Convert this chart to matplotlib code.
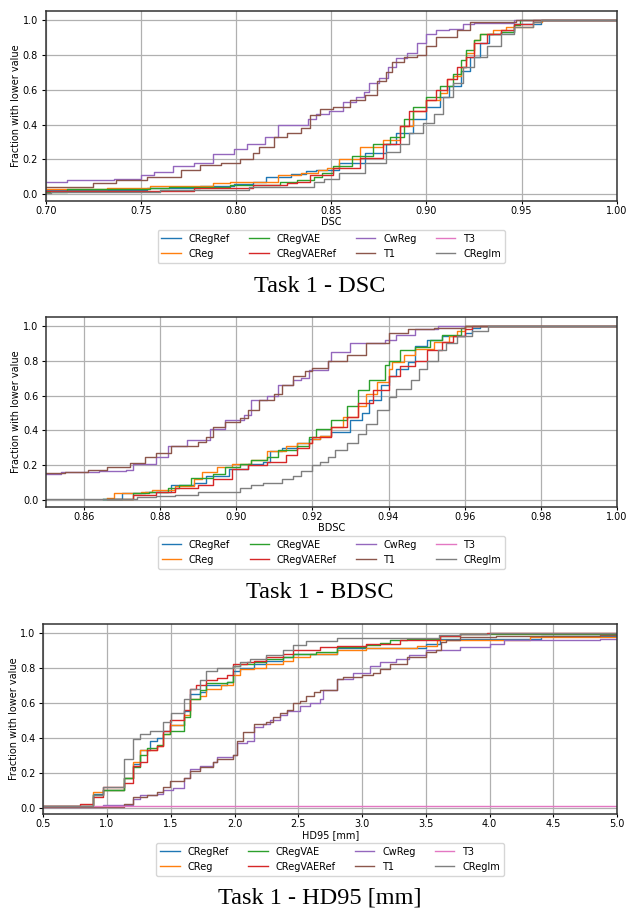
import numpy as np
import matplotlib
matplotlib.use("Agg")
import matplotlib.pyplot as plt

series_names = ["CRegRef", "CReg", "CRegVAE", "CRegVAERef", "CwReg", "T1", "T3", "CRegIm"]
series_colors = ["tab:blue", "tab:orange", "tab:green", "tab:red",
                 "tab:purple", "tab:brown", "tab:pink", "tab:gray"]

# ---- Task 1 - DSC : (value, fraction) step points ----
dsc_cregref = [(0.70, 0.025), (0.753, 0.038), (0.781, 0.048), (0.799, 0.057), (0.809, 0.073), (0.816, 0.10),
               (0.829, 0.117), (0.837, 0.136), (0.842, 0.14), (0.854, 0.18), (0.868, 0.235), (0.879, 0.29),
               (0.884, 0.35), (0.893, 0.43), (0.90, 0.50), (0.907, 0.56), (0.912, 0.62), (0.918, 0.71),
               (0.923, 0.79), (0.928, 0.87), (0.933, 0.92), (0.939, 0.93), (0.946, 0.98), (0.96, 1.0)]
dsc_creg = [(0.70, 0.028), (0.732, 0.034), (0.755, 0.05), (0.788, 0.063), (0.797, 0.07), (0.822, 0.11),
            (0.834, 0.12), (0.843, 0.14), (0.848, 0.15), (0.854, 0.20), (0.865, 0.27), (0.877, 0.31),
            (0.886, 0.39), (0.893, 0.48), (0.90, 0.54), (0.907, 0.58), (0.911, 0.66), (0.914, 0.68),
            (0.918, 0.73), (0.921, 0.81), (0.925, 0.885), (0.928, 0.92), (0.935, 0.94), (0.942, 0.96),
            (0.956, 0.99), (0.961, 1.0)]
dsc_cregvae = [(0.70, 0.015), (0.711, 0.03), (0.755, 0.035), (0.765, 0.045), (0.797, 0.055), (0.823, 0.07),
               (0.832, 0.08), (0.841, 0.10), (0.845, 0.12), (0.851, 0.16), (0.861, 0.22), (0.872, 0.29),
               (0.881, 0.33), (0.888, 0.43), (0.893, 0.50), (0.90, 0.56), (0.907, 0.62), (0.914, 0.69),
               (0.918, 0.77), (0.921, 0.83), (0.925, 0.885), (0.928, 0.92), (0.939, 0.93), (0.946, 0.97),
               (0.949, 1.0)]
dsc_cregvaeref = [(0.70, 0.02), (0.778, 0.034), (0.809, 0.055), (0.827, 0.063), (0.832, 0.073), (0.839, 0.11),
                  (0.851, 0.15), (0.865, 0.21), (0.877, 0.29), (0.886, 0.39), (0.891, 0.48), (0.90, 0.54),
                  (0.905, 0.60), (0.911, 0.66), (0.916, 0.73), (0.921, 0.79), (0.925, 0.87), (0.932, 0.92),
                  (0.939, 0.94), (0.946, 0.975), (0.956, 1.0)]
dsc_cwreg = [(0.70, 0.073), (0.711, 0.08), (0.736, 0.09), (0.75, 0.11), (0.757, 0.13), (0.767, 0.16),
             (0.778, 0.18), (0.788, 0.23), (0.799, 0.26), (0.806, 0.29), (0.815, 0.33), (0.822, 0.40),
             (0.838, 0.43), (0.842, 0.46), (0.849, 0.48), (0.856, 0.53), (0.863, 0.56), (0.867, 0.59),
             (0.87, 0.64), (0.875, 0.67), (0.88, 0.73), (0.884, 0.78), (0.89, 0.81), (0.895, 0.87),
             (0.90, 0.92), (0.905, 0.94), (0.912, 0.95), (0.919, 0.98), (0.925, 0.985), (0.946, 1.0)]
dsc_t1 = [(0.70, 0.044), (0.725, 0.067), (0.737, 0.082), (0.753, 0.10), (0.771, 0.14), (0.781, 0.17),
          (0.792, 0.18), (0.802, 0.20), (0.809, 0.235), (0.812, 0.27), (0.82, 0.33), (0.827, 0.35),
          (0.834, 0.38), (0.839, 0.455), (0.844, 0.49), (0.851, 0.50), (0.86, 0.54), (0.868, 0.57),
          (0.874, 0.65), (0.879, 0.70), (0.882, 0.76), (0.888, 0.79), (0.895, 0.80), (0.90, 0.85),
          (0.905, 0.90), (0.916, 0.94), (0.923, 0.99), (0.947, 1.0)]
dsc_t3 = []
dsc_cregim = [(0.70, 0.01), (0.703, 0.015), (0.76, 0.025), (0.807, 0.044), (0.841, 0.073), (0.846, 0.09),
              (0.854, 0.12), (0.868, 0.18), (0.879, 0.245), (0.886, 0.29), (0.891, 0.35), (0.898, 0.41),
              (0.904, 0.46), (0.909, 0.56), (0.914, 0.64), (0.919, 0.73), (0.925, 0.79), (0.932, 0.85),
              (0.939, 0.92), (0.946, 0.96), (0.956, 0.99), (0.96, 1.0)]

# ---- Task 1 - BDSC ----
bdsc_cregref = [(0.865, 0.01), (0.87, 0.04), (0.876, 0.05), (0.883, 0.09), (0.889, 0.10), (0.892, 0.14),
                (0.898, 0.18), (0.903, 0.21), (0.907, 0.22), (0.909, 0.28), (0.912, 0.30), (0.916, 0.33),
                (0.919, 0.35), (0.922, 0.37), (0.925, 0.39), (0.93, 0.46), (0.933, 0.50), (0.935, 0.575),
                (0.938, 0.66), (0.94, 0.71), (0.942, 0.75), (0.945, 0.79), (0.947, 0.885), (0.95, 0.92),
                (0.954, 0.94), (0.96, 0.96), (0.962, 0.99), (0.964, 1.0)]
bdsc_creg = [(0.866, 0.015), (0.868, 0.04), (0.875, 0.045), (0.878, 0.06), (0.884, 0.08), (0.889, 0.12),
             (0.891, 0.16), (0.895, 0.19), (0.899, 0.21), (0.904, 0.23), (0.908, 0.28), (0.913, 0.31),
             (0.916, 0.33), (0.92, 0.35), (0.922, 0.37), (0.925, 0.42), (0.928, 0.48), (0.932, 0.54),
             (0.934, 0.61), (0.937, 0.68), (0.94, 0.75), (0.941, 0.795), (0.944, 0.835), (0.947, 0.87),
             (0.952, 0.91), (0.956, 0.94), (0.958, 0.97), (0.96, 1.0)]
bdsc_cregvae = [(0.865, 0.01), (0.873, 0.04), (0.877, 0.05), (0.882, 0.07), (0.885, 0.09), (0.888, 0.13),
                (0.894, 0.15), (0.897, 0.19), (0.901, 0.21), (0.904, 0.23), (0.908, 0.25), (0.911, 0.29),
                (0.916, 0.31), (0.919, 0.36), (0.921, 0.41), (0.925, 0.46), (0.929, 0.54), (0.932, 0.63),
                (0.935, 0.69), (0.939, 0.775), (0.94, 0.80), (0.943, 0.86), (0.947, 0.88), (0.951, 0.92),
                (0.954, 0.95), (0.959, 0.99), (0.96, 1.0)]
bdsc_cregvaeref = [(0.866, 0.01), (0.873, 0.03), (0.879, 0.05), (0.884, 0.07), (0.89, 0.09), (0.894, 0.12),
                   (0.899, 0.18), (0.903, 0.20), (0.908, 0.22), (0.913, 0.26), (0.916, 0.30), (0.919, 0.33),
                   (0.92, 0.36), (0.925, 0.42), (0.929, 0.48), (0.932, 0.56), (0.936, 0.63), (0.94, 0.71),
                   (0.943, 0.77), (0.947, 0.80), (0.95, 0.86), (0.954, 0.91), (0.957, 0.94), (0.96, 0.98),
                   (0.962, 1.0)]
bdsc_cwreg = [(0.85, 0.15), (0.854, 0.163), (0.864, 0.17), (0.871, 0.175), (0.873, 0.21), (0.879, 0.25),
              (0.882, 0.31), (0.887, 0.345), (0.893, 0.41), (0.897, 0.46), (0.902, 0.49), (0.904, 0.575),
              (0.908, 0.60), (0.911, 0.66), (0.915, 0.69), (0.917, 0.70), (0.919, 0.745), (0.924, 0.80),
              (0.925, 0.85), (0.93, 0.90), (0.939, 0.92), (0.942, 0.95), (0.947, 0.98), (0.953, 1.0)]
bdsc_t1 = [(0.85, 0.157), (0.855, 0.163), (0.861, 0.172), (0.866, 0.19), (0.872, 0.215), (0.876, 0.25),
           (0.879, 0.27), (0.883, 0.31), (0.89, 0.335), (0.892, 0.36), (0.894, 0.42), (0.897, 0.45),
           (0.901, 0.47), (0.903, 0.52), (0.906, 0.575), (0.91, 0.61), (0.912, 0.66), (0.915, 0.71),
           (0.918, 0.74), (0.92, 0.76), (0.924, 0.80), (0.929, 0.835), (0.934, 0.90), (0.94, 0.96),
           (0.945, 0.98), (0.952, 0.99), (0.96, 1.0)]
bdsc_t3 = []
bdsc_cregim = [(0.85, 0.01), (0.874, 0.02), (0.879, 0.025), (0.884, 0.03), (0.89, 0.045), (0.899, 0.05),
               (0.901, 0.07), (0.904, 0.09), (0.907, 0.10), (0.912, 0.12), (0.915, 0.14), (0.917, 0.17),
               (0.92, 0.20), (0.922, 0.22), (0.924, 0.25), (0.926, 0.29), (0.929, 0.33), (0.932, 0.38),
               (0.934, 0.44), (0.937, 0.52), (0.94, 0.59), (0.942, 0.64), (0.946, 0.69), (0.948, 0.75),
               (0.95, 0.80), (0.953, 0.86), (0.955, 0.90), (0.958, 0.94), (0.962, 0.97), (0.966, 1.0)]

# ---- Task 1 - HD95 [mm] ----
hd_cregref = [(0.5, 0.01), (0.89, 0.08), (0.97, 0.10), (1.13, 0.17), (1.2, 0.25), (1.26, 0.33), (1.34, 0.38),
              (1.39, 0.40), (1.44, 0.44), (1.49, 0.47), (1.6, 0.55), (1.65, 0.65), (1.73, 0.66), (1.78, 0.70),
              (1.94, 0.72), (1.99, 0.78), (2.04, 0.80), (2.15, 0.82), (2.25, 0.84), (2.38, 0.86), (2.46, 0.88),
              (2.8, 0.91), (3.5, 0.935), (3.61, 0.965), (4.4, 0.98)]
hd_creg = [(0.5, 0.01), (0.89, 0.09), (0.97, 0.10), (1.13, 0.17), (1.2, 0.26), (1.26, 0.33), (1.39, 0.35),
           (1.44, 0.42), (1.49, 0.47), (1.6, 0.53), (1.65, 0.62), (1.73, 0.64), (1.78, 0.68), (1.89, 0.70),
           (1.99, 0.76), (2.04, 0.79), (2.15, 0.80), (2.25, 0.82), (2.38, 0.84), (2.46, 0.86), (2.59, 0.88),
           (2.8, 0.90), (3.03, 0.91), (3.43, 0.925), (3.59, 0.955), (4.32, 0.975)]
hd_cregvae = [(0.5, 0.01), (0.89, 0.07), (0.97, 0.10), (1.13, 0.17), (1.2, 0.23), (1.26, 0.30), (1.31, 0.34),
              (1.39, 0.36), (1.44, 0.42), (1.49, 0.44), (1.6, 0.52), (1.65, 0.62), (1.73, 0.67), (1.78, 0.71),
              (1.94, 0.72), (1.99, 0.81), (2.04, 0.82), (2.15, 0.83), (2.25, 0.85), (2.38, 0.86), (2.46, 0.88),
              (2.64, 0.89), (2.8, 0.92), (3.03, 0.93), (3.14, 0.94), (3.22, 0.955), (3.35, 0.965),
              (3.61, 0.98), (3.77, 0.99)]
hd_cregvaeref = [(0.5, 0.01), (0.79, 0.02), (0.89, 0.06), (0.97, 0.12), (1.13, 0.14), (1.2, 0.24), (1.26, 0.26),
                 (1.31, 0.33), (1.39, 0.35), (1.44, 0.44), (1.49, 0.50), (1.6, 0.56), (1.65, 0.68), (1.7, 0.70),
                 (1.78, 0.73), (1.86, 0.74), (1.94, 0.76), (1.99, 0.82), (2.1, 0.83), (2.15, 0.84), (2.25, 0.86),
                 (2.38, 0.88), (2.46, 0.90), (2.67, 0.917), (2.8, 0.925), (3.03, 0.935), (3.3, 0.96),
                 (3.61, 0.98), (3.77, 0.99), (3.98, 0.995)]
hd_cwreg = [(0.5, 0.005), (0.97, 0.015), (1.2, 0.05), (1.26, 0.07), (1.39, 0.08), (1.44, 0.10), (1.52, 0.11),
            (1.6, 0.17), (1.65, 0.22), (1.73, 0.24), (1.83, 0.26), (1.86, 0.29), (1.99, 0.30), (2.02, 0.37),
            (2.1, 0.38), (2.15, 0.46), (2.22, 0.48), (2.28, 0.50), (2.36, 0.53), (2.41, 0.55), (2.51, 0.58),
            (2.59, 0.60), (2.67, 0.62), (2.69, 0.67), (2.8, 0.735), (2.93, 0.77), (3.06, 0.81), (3.14, 0.83),
            (3.27, 0.85), (3.37, 0.87), (3.5, 0.90), (3.77, 0.92), (4.0, 0.935), (4.11, 0.955),
            (4.74, 0.96), (4.87, 0.965)]
hd_t1 = [(0.5, 0.005), (1.13, 0.02), (1.2, 0.06), (1.31, 0.07), (1.39, 0.09), (1.44, 0.12), (1.49, 0.15),
         (1.6, 0.17), (1.65, 0.21), (1.73, 0.23), (1.83, 0.26), (1.86, 0.28), (1.99, 0.30), (2.02, 0.38),
         (2.07, 0.43), (2.15, 0.48), (2.25, 0.49), (2.3, 0.52), (2.36, 0.54), (2.41, 0.56), (2.46, 0.60),
         (2.51, 0.61), (2.56, 0.64), (2.62, 0.66), (2.67, 0.67), (2.8, 0.735), (2.85, 0.745), (3.0, 0.755),
         (3.09, 0.77), (3.14, 0.79), (3.22, 0.82), (3.35, 0.86), (3.5, 0.89), (3.58, 0.90), (3.62, 0.946),
         (3.66, 0.955), (3.77, 0.975), (4.05, 0.98), (4.87, 0.985)]
hd_t3 = [(0.5, 0.008)]
hd_cregim = [(0.5, 0.01), (0.89, 0.07), (0.97, 0.12), (1.13, 0.28), (1.2, 0.39), (1.26, 0.42), (1.34, 0.44),
             (1.44, 0.49), (1.5, 0.54), (1.6, 0.62), (1.65, 0.68), (1.73, 0.73), (1.78, 0.78), (1.86, 0.80),
             (1.99, 0.81), (2.04, 0.83), (2.12, 0.85), (2.25, 0.87), (2.38, 0.90), (2.46, 0.93), (2.56, 0.95),
             (2.8, 0.97), (3.6, 0.985), (3.77, 0.99), (4.0, 0.995)]

panels = [
    ("DSC", "Task 1 - DSC", (0.70, 1.00), np.arange(0.70, 1.001, 0.05), "%.2f",
     [dsc_cregref, dsc_creg, dsc_cregvae, dsc_cregvaeref, dsc_cwreg, dsc_t1, dsc_t3, dsc_cregim]),
    ("BDSC", "Task 1 - BDSC", (0.85, 1.00), np.arange(0.86, 1.001, 0.02), "%.2f",
     [bdsc_cregref, bdsc_creg, bdsc_cregvae, bdsc_cregvaeref, bdsc_cwreg, bdsc_t1, bdsc_t3, bdsc_cregim]),
    ("HD95 [mm]", "Task 1 - HD95 [mm]", (0.5, 5.0), np.arange(0.5, 5.01, 0.5), "%.1f",
     [hd_cregref, hd_creg, hd_cregvae, hd_cregvaeref, hd_cwreg, hd_t1, hd_t3, hd_cregim]),
]

# axes boxes in pixels: left, right, top, bottom
boxes = [(45.7, 616.7, 11.5, 200.8), (45.8, 617.0, 317.3, 506.7), (43.3, 617.0, 624.0, 814.0)]
caption_y = [287, 592, 898]
legend_top = [230, 536, 843]

W, H = 626, 911
fig = plt.figure(figsize=(W / 100, H / 100), dpi=100)

for (xlabel, caption, xlim, xticks, fmt, data), (l, r, t, b), cy, lt in zip(panels, boxes, caption_y, legend_top):
    ax = fig.add_axes([l / W, 1 - b / H, (r - l) / W, (b - t) / H])
    for name, color, pts in zip(series_names, series_colors, data):
        if len(pts) == 0:
            ax.plot([], [], color=color, lw=1.0, label=name)
            continue
        xs = [p[0] for p in pts] + [xlim[1]]
        ys = [p[1] for p in pts] + [pts[-1][1]]
        ax.step(xs, ys, where="post", color=color, lw=1.0, label=name)
    ax.set_xlim(*xlim)
    ax.set_ylim(-0.037, 1.049)
    ax.set_xticks(xticks)
    ax.set_xticklabels([fmt % v for v in xticks])
    ax.set_yticks(np.arange(0, 1.01, 0.2))
    ax.set_yticklabels(["%.1f" % v for v in np.arange(0, 1.01, 0.2)])
    ax.grid(True, color="#b0b0b0", lw=0.9)
    ax.tick_params(axis="x", labelsize=7, length=2.5, width=0.8, pad=1.0)
    ax.tick_params(axis="y", labelsize=7, length=3, width=0.8, pad=2.5)
    for s in ax.spines.values():
        s.set_color("#333333")
        s.set_linewidth(1.1)
    ax.set_xlabel(xlabel, fontsize=7, labelpad=1)
    ax.set_ylabel("Fraction with lower value", fontsize=7, labelpad=1)
    ax.legend(loc="upper center", bbox_to_anchor=(0.5, -(lt - b) / (b - t)), ncol=4, fontsize=7,
              frameon=True, handlelength=2.0, columnspacing=2.0, borderaxespad=0)
    fig.text(320 / W, 1 - cy / H, caption, ha="center", va="center",
             family="Liberation Serif", fontsize=17.5)

fig.savefig("out.png", dpi=100)
